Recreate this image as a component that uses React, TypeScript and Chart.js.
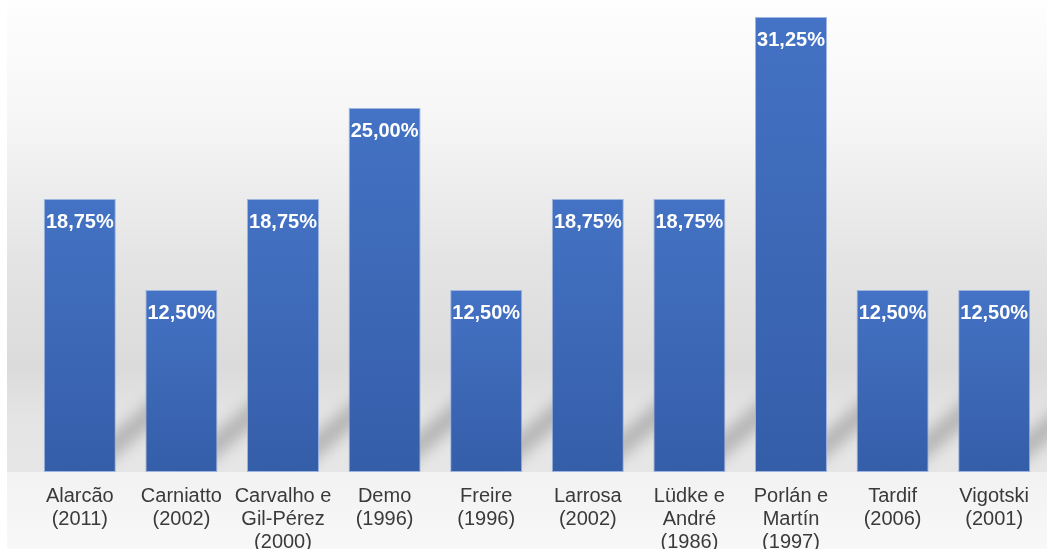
import React, { useEffect, useRef } from "react";
import { Chart, registerables } from "chart.js";

Chart.register(...registerables);

const categories: string[][] = [
  ["Alarcão", "(2011)"],
  ["Carniatto", "(2002)"],
  ["Carvalho e", "Gil-Pérez", "(2000)"],
  ["Demo", "(1996)"],
  ["Freire", "(1996)"],
  ["Larrosa", "(2002)"],
  ["Lüdke e", "André", "(1986)"],
  ["Porlán e", "Martín", "(1997)"],
  ["Tardif", "(2006)"],
  ["Vigotski", "(2001)"],
];

const percentages: number[] = [18.75, 12.5, 18.75, 25.0, 12.5, 18.75, 18.75, 31.25, 12.5, 12.5];

const FONT = "'Liberation Sans', Arial, sans-serif";

const backgroundPlugin = {
  id: "panelBackground",
  beforeDraw(chart: any) {
    const { ctx, width, height, chartArea } = chart;
    ctx.save();
    ctx.fillStyle = "#ffffff";
    ctx.fillRect(0, 0, width, height);
    const panelLeft = 7;
    const panelRight = 1047;
    const bottom = chartArea.bottom;
    const g = ctx.createLinearGradient(0, 0, 0, bottom);
    g.addColorStop(0, "#fefefe");
    g.addColorStop(0.25, "#f6f6f6");
    g.addColorStop(0.55, "#e4e4e4");
    g.addColorStop(0.78, "#dbdbdb");
    g.addColorStop(0.88, "#e4e4e4");
    g.addColorStop(1, "#e6e6e6");
    ctx.fillStyle = g;
    ctx.fillRect(panelLeft, 0, panelRight - panelLeft, bottom);
    const g2 = ctx.createLinearGradient(0, bottom, 0, height);
    g2.addColorStop(0, "#f2f2f2");
    g2.addColorStop(1, "#f8f8f8");
    ctx.fillStyle = g2;
    ctx.fillRect(panelLeft, bottom, panelRight - panelLeft, height - bottom);
    ctx.restore();
  },
  beforeDatasetsDraw(chart: any) {
    const { ctx, chartArea } = chart;
    const meta = chart.getDatasetMeta(0);
    ctx.save();
    ctx.beginPath();
    ctx.rect(7, chartArea.top, 1040, chartArea.bottom - chartArea.top);
    ctx.clip();
    ctx.filter = "blur(7px)";
    ctx.strokeStyle = "rgba(0,0,0,0.2)";
    ctx.lineWidth = 20;
    ctx.lineCap = "round";
    meta.data.forEach((bar: any) => {
      const x = bar.x;
      const base = bar.base;
      ctx.beginPath();
      ctx.moveTo(x, base + 2);
      ctx.lineTo(x + 92, base - 76);
      ctx.stroke();
    });
    ctx.restore();
  },
  afterDatasetsDraw(chart: any) {
    const { ctx } = chart;
    const meta = chart.getDatasetMeta(0);
    ctx.save();
    ctx.font = `bold 20px ${FONT}`;
    ctx.fillStyle = "#ffffff";
    ctx.textAlign = "center";
    ctx.textBaseline = "middle";
    meta.data.forEach((bar: any, i: number) => {
      const txt = percentages[i].toFixed(2).replace(".", ",") + "%";
      ctx.fillText(txt, bar.x, bar.y + 23);
    });
    ctx.restore();
  },
};

export default function App() {
  const canvasRef = useRef<HTMLCanvasElement>(null);

  useEffect(() => {
    if (!canvasRef.current) return;
    const chart = new Chart(canvasRef.current, {
      type: "bar",
      data: {
        labels: categories,
        datasets: [
          {
            data: percentages,
            backgroundColor: (context: any) => {
              const chart = context.chart;
              const yScale = chart.scales?.y;
              if (!yScale || !chart.chartArea || context.dataIndex === undefined) return "#4472C4";
              const v = percentages[context.dataIndex];
              const top = yScale.getPixelForValue(v);
              const bottom = yScale.getPixelForValue(0);
              const g = chart.ctx.createLinearGradient(0, top, 0, bottom);
              g.addColorStop(0, "#4472C4");
              g.addColorStop(1, "#355EA9");
              return g;
            },
            borderColor: "rgba(150,175,222,0.9)",
            borderWidth: 1,
            borderSkipped: false,
            barPercentage: 0.709,
            categoryPercentage: 1,
          },
        ],
      },
      options: {
        responsive: false,
        animation: false,
        devicePixelRatio: 1,
        layout: { padding: { left: 29, right: 11, top: 0, bottom: 0 } },
        plugins: {
          legend: { display: false },
          tooltip: { enabled: false },
        },
        scales: {
          x: {
            grid: { display: false, drawTicks: false },
            border: { display: false },
            ticks: {
              autoSkip: false,
              maxRotation: 0,
              minRotation: 0,
              padding: 13,
              color: "#3a3a3a",
              font: { family: FONT, size: 20, lineHeight: 1.15 },
            },
            afterFit: (scale: any) => {
              scale.height = 77;
            },
          },
          y: {
            display: false,
            min: 0,
            max: 32.42,
          },
        },
      },
      plugins: [backgroundPlugin],
    });
    return () => chart.destroy();
  }, []);

  return (
    <div style={{ position: "fixed", left: 0, top: 0, width: 1056, height: 549 }}>
      <canvas ref={canvasRef} width={1056} height={549} style={{ display: "block" }} />
    </div>
  );
}
